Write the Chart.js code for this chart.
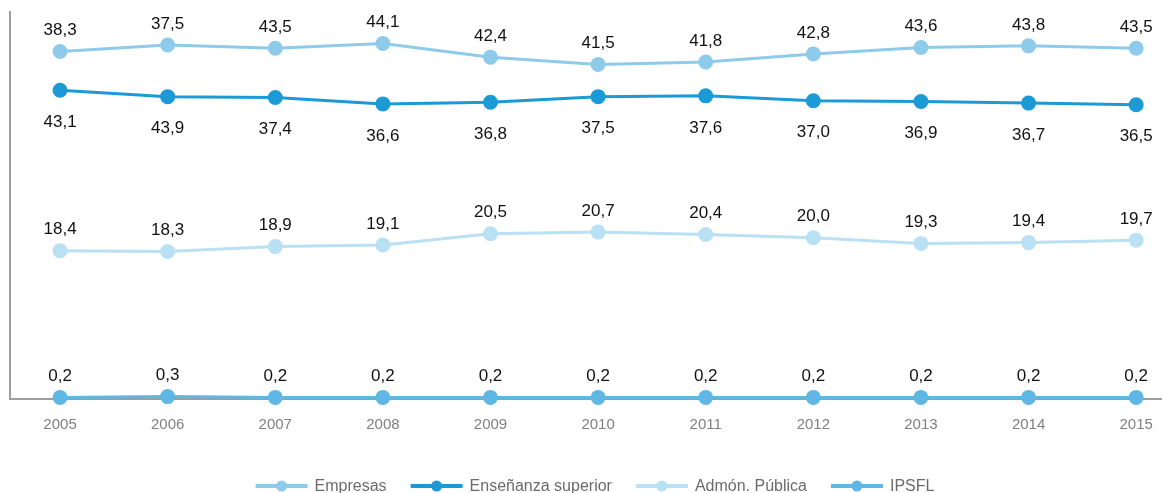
<!DOCTYPE html>
<html>
<head>
<meta charset="utf-8">
<script src="https://cdn.jsdelivr.net/npm/chart.js@4"></script>
<style>
	html, body { margin: 0; padding: 0; background: #fff; overflow: hidden; }
	#chart-box { position: relative; width: 1162px; height: 493px; }
	#share-chart-canvas { display: block; }
</style>
</head>
<body>
<div id="chart-box"><canvas id="share-chart-canvas"></canvas></div>
<script>
var years = [2005, 2006, 2007, 2008, 2009, 2010, 2011, 2012, 2013, 2014, 2015];
var seriesNames = ["Empresas", "Enseñanza superior", "Admón. Pública", "IPSFL"];

var empresasValues = [43.1, 43.9, 43.5, 44.1, 42.4, 41.5, 41.8, 42.8, 43.6, 43.8, 43.5];
var ensenanzaValues = [38.3, 37.5, 37.4, 36.6, 36.8, 37.5, 37.6, 37.0, 36.9, 36.7, 36.5];
var admonValues = [18.4, 18.3, 18.9, 19.1, 20.5, 20.7, 20.4, 20.0, 19.3, 19.4, 19.7];
var ipsflValues = [0.2, 0.3, 0.2, 0.2, 0.2, 0.2, 0.2, 0.2, 0.2, 0.2, 0.2];

// labels as printed in the original (2005 and 2006 are swapped there)
var empresasLabels = ["38,3", "37,5", "43,5", "44,1", "42,4", "41,5", "41,8", "42,8", "43,6", "43,8", "43,5"];
var ensenanzaLabels = ["43,1", "43,9", "37,4", "36,6", "36,8", "37,5", "37,6", "37,0", "36,9", "36,7", "36,5"];
var admonLabels = ["18,4", "18,3", "18,9", "19,1", "20,5", "20,7", "20,4", "20,0", "19,3", "19,4", "19,7"];
var ipsflLabels = ["0,2", "0,3", "0,2", "0,2", "0,2", "0,2", "0,2", "0,2", "0,2", "0,2", "0,2"];

var seriesColors = ["#8ecbea", "#1c9ad6", "#b9e0f3", "#5fb7e3"];
var fontName = "'Liberation Sans', Arial, Helvetica, sans-serif";

function toPoints(values) {
	return values.map(function(v, i) { return {x: years[i], y: v}; });
}

function makeDataset(index, values, labels, below) {
	return {
		label: seriesNames[index],
		data: toPoints(values),
		pointLabels: labels,
		labelBelow: below,
		borderColor: seriesColors[index],
		backgroundColor: seriesColors[index],
		pointBackgroundColor: seriesColors[index],
		pointBorderColor: seriesColors[index],
		borderWidth: 3,
		pointRadius: 6,
		pointHoverRadius: 6,
		tension: 0,
		clip: false
	};
}

var valueLabelPlugin = {
	id: "valueLabels",
	afterDatasetsDraw: function(chart) {
		var ctx = chart.ctx;
		ctx.save();
		ctx.font = "17px " + fontName;
		ctx.fillStyle = "#111";
		ctx.textAlign = "center";
		ctx.textBaseline = "middle";
		chart.data.datasets.forEach(function(ds, di) {
			var meta = chart.getDatasetMeta(di);
			meta.data.forEach(function(pt, i) {
				var off = ds.labelBelow ? 32 : -21;
				ctx.fillText(ds.pointLabels[i], pt.x, pt.y + off);
			});
		});
		ctx.restore();
	}
};

var lineLegendPlugin = {
	id: "lineLegend",
	afterDraw: function(chart) {
		var ctx = chart.ctx;
		var iconWidth = 52, iconGap = 7, itemGap = 24;
		var legendY = 486;
		var centerX = 595;
		ctx.save();
		ctx.font = "16px " + fontName;
		ctx.textBaseline = "middle";
		var total = 0;
		var widths = chart.data.datasets.map(function(ds) {
			var w = ctx.measureText(ds.label).width;
			total += iconWidth + iconGap + w;
			return w;
		});
		total += itemGap * (widths.length - 1);
		var x = centerX - total / 2;
		chart.data.datasets.forEach(function(ds, di) {
			ctx.strokeStyle = ds.borderColor;
			ctx.lineWidth = 4;
			ctx.beginPath();
			ctx.moveTo(x, legendY);
			ctx.lineTo(x + iconWidth, legendY);
			ctx.stroke();
			ctx.fillStyle = ds.borderColor;
			ctx.beginPath();
			ctx.arc(x + iconWidth / 2, legendY, 5.5, 0, Math.PI * 2);
			ctx.fill();
			ctx.fillStyle = "#6b6b6b";
			ctx.textAlign = "left";
			ctx.fillText(ds.label, x + iconWidth + iconGap, legendY + 1);
			x += iconWidth + iconGap + widths[di] + itemGap;
		});
		ctx.restore();
	}
};

window.onload = function() {
	window.shareChart = new Chart(document.getElementById("share-chart-canvas"), {
		type: "line",
		data: {
			datasets: [
				makeDataset(0, empresasValues, empresasLabels, false),
				makeDataset(1, ensenanzaValues, ensenanzaLabels, true),
				makeDataset(2, admonValues, admonLabels, false),
				makeDataset(3, ipsflValues, ipsflLabels, false)
			]
		},
		options: {
			responsive: true,
			maintainAspectRatio: false,
			animation: false,
			layout: {
				autoPadding: false,
				padding: {left: 10, right: 0, top: 12, bottom: 42}
			},
			plugins: {
				legend: {display: false},
				tooltip: {enabled: false}
			},
			scales: {
				x: {
					type: "linear",
					min: 2004.535,
					max: 2015.24,
					grid: {display: false, drawTicks: false},
					border: {display: true, color: "#9d9d9d", width: 2},
					afterBuildTicks: function(scale) {
						scale.ticks = years.map(function(y) { return {value: y}; });
					},
					afterFit: function(scale) {
						scale.paddingLeft = 0;
						scale.paddingRight = 0;
					},
					ticks: {
						padding: 17,
						color: "#808080",
						font: {family: fontName, size: 15},
						maxRotation: 0,
						autoSkip: false,
						callback: function(value) { return String(value); }
					}
				},
				y: {
					min: 0,
					max: 48,
					grid: {display: false, drawTicks: false},
					border: {display: true, color: "#9d9d9d", width: 2},
					ticks: {display: false}
				}
			}
		},
		plugins: [valueLabelPlugin, lineLegendPlugin]
	});
};
</script>
</body>
</html>
